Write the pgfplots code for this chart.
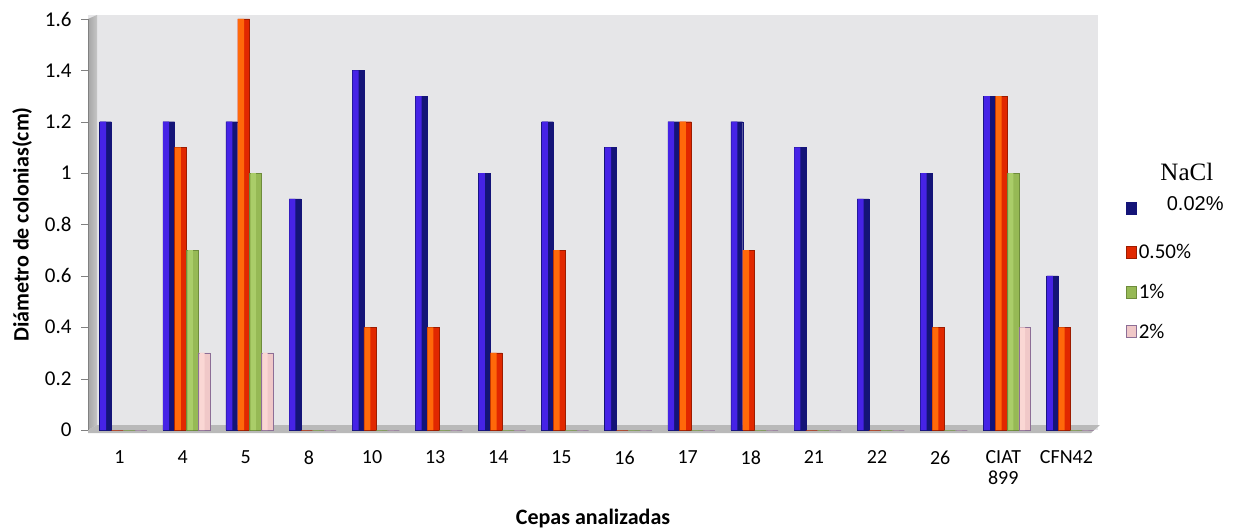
\documentclass[border=0pt]{standalone}
\usepackage{fontspec}
\setmainfont{Carlito}
\newfontfamily\arialfont{Liberation Sans}
\newfontfamily\timesfont{Liberation Serif}
\usepackage{pgfplots}
\usepackage{pgfplotstable}
\pgfplotsset{compat=1.18}
\usetikzlibrary{calc}
\definecolor{wallgray}{RGB}{230,230,232}
\definecolor{sidegray}{RGB}{165,165,165}
\definecolor{floorgray}{RGB}{185,185,185}
\definecolor{bluedark}{RGB}{20,20,120}
\definecolor{bluelight}{RGB}{70,35,230}
\definecolor{orangeL}{RGB}{255,105,10}
\definecolor{redR}{RGB}{225,40,0}
\definecolor{greenF}{RGB}{150,185,85}
\definecolor{greenL}{RGB}{170,205,105}
\definecolor{greenD}{RGB}{110,140,60}
\definecolor{pinkF}{RGB}{240,200,200}
\definecolor{pinkL}{RGB}{250,215,212}
\definecolor{pinkD}{RGB}{140,110,150}
\pgfplotstableread{
x a b c d
0 1.2 0 0 0
1 1.2 1.1 0.7 0.3
2 1.2 1.6 1.0 0.3
3 0.9 0 0 0
4 1.4 0.4 0 0
5 1.3 0.4 0 0
6 1.0 0.3 0 0
7 1.2 0.7 0 0
8 1.1 0 0 0
9 1.2 1.2 0 0
10 1.2 0.7 0 0
11 1.1 0 0 0
12 0.9 0 0 0
13 1.0 0.4 0 0
14 1.3 1.3 1.0 0.4
15 0.6 0.4 0 0
}\datatable
\begin{document}
\begin{tikzpicture}
\begin{axis}[
  set layers,
  at={(88pt,98pt)}, anchor=south west,
  scale only axis, width=1010pt, height=411pt,
  ybar, bar width=11.8pt,
  xmin=-0.5, xmax=15.5, ymin=0, ymax=1.6,
  xtick={0,...,15},
  xticklabels={1,4,5,8,10,13,14,15,16,17,18,21,22,26,{CIAT\\899},CFN42},
  x tick label style={align=center, font=\fontsize{20}{21}\selectfont, yshift=-10pt, anchor=north},
  ytick={0,0.2,...,1.6},
  y tick label style={font=\fontsize{21}{22}\selectfont, xshift=-6pt},
  /pgf/number format/assume math mode=true,
  axis lines*=left,
  x axis line style={draw=none},
  y axis line style={draw=gray},
  xtick style={draw=none},
  ytick style={draw=gray},
  tick align=outside, major tick length=7pt,
  xlabel={\textbf{Cepas analizadas}},
  ylabel={\textbf{Diámetro de colonias(cm)}},
  xlabel style={font=\fontsize{22}{24}\selectfont, yshift=-18pt},
  ylabel style={font=\fontsize{22}{24}\selectfont, yshift=6pt},
  legend style={draw=none, fill=none, at={(1.025,0.578)}, anchor=north west,
    font=\fontsize{21}{23}\selectfont, row sep=20pt, /tikz/every even column/.append style={column sep=2pt}},
  legend cell align=left,
  legend image code/.code={\draw[#1] (0pt,-6pt) rectangle (10pt,6pt);},
  clip=false,
]
\begin{pgfonlayer}{axis background}
  \fill[wallgray] (rel axis cs:0,0) rectangle (rel axis cs:1,1.01);
  \shade[left color=sidegray, right color=gray!45] (rel axis cs:0,0) -- (rel axis cs:0,1) -- ($(rel axis cs:0,1)+(9pt,4pt)$) -- ($(rel axis cs:0,0)+(9pt,5pt)$) -- cycle;
  \fill[floorgray] (rel axis cs:0,0) -- ($(rel axis cs:0,0)+(9pt,5pt)$) -- ($(rel axis cs:1,0)+(2pt,5pt)$) -- ($(rel axis cs:1,0)+(-7pt,-3pt)$) -- ($(rel axis cs:0,0)+(0pt,-3pt)$) -- cycle;
\end{pgfonlayer}
\addplot[draw=bluedark, fill=bluedark, bar shift=-14pt] table[x=x,y=a] {\datatable};
\addplot[draw=redR!70!black, fill=redR, bar shift=-2.2pt] table[x=x,y=b] {\datatable};
\addplot[draw=greenD, fill=greenF, bar shift=9.6pt] table[x=x,y=c] {\datatable};
\addplot[draw=pinkD, fill=pinkF, bar shift=21.4pt] table[x=x,y=d] {\datatable};
\legend{\raisebox{8pt}{\hspace{28pt}\arialfont\fontsize{20}{22}\selectfont 0.02\%},0.50\%,1\%,2\%}
% cylinder highlights (same data, narrower lighter bars, left half)
\addplot[forget plot, draw=none, fill=bluelight, bar width=6pt, bar shift=-16.5pt] table[x=x,y=a] {\datatable};
\addplot[forget plot, draw=none, fill=orangeL, bar width=6pt, bar shift=-4.7pt] table[x=x,y=b] {\datatable};
\addplot[forget plot, draw=none, fill=greenL, bar width=5pt, bar shift=7.6pt] table[x=x,y=c] {\datatable};
\addplot[forget plot, draw=none, fill=pinkL, bar width=5pt, bar shift=19.4pt] table[x=x,y=d] {\datatable};
\node[font=\timesfont\fontsize{25}{27}\selectfont] at (axis description cs:1.088,0.628) {NaCl};
\end{axis}
\path (0,0) rectangle (1259pt,528pt);
\end{tikzpicture}
\end{document}
